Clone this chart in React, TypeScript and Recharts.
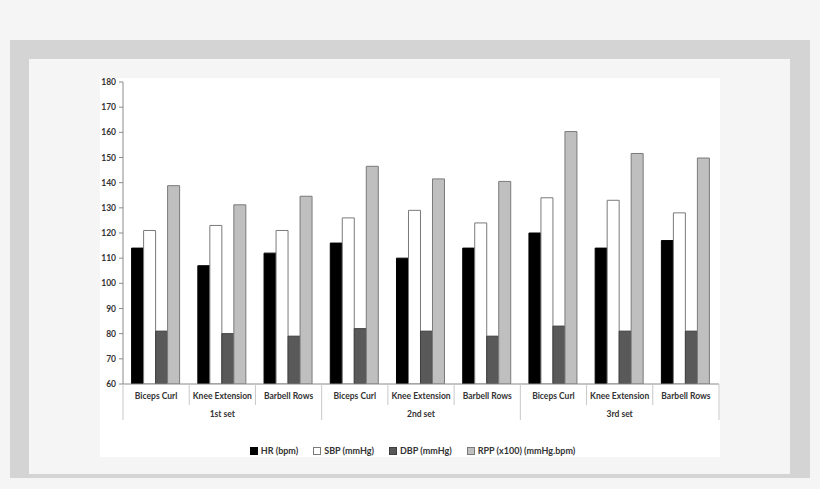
import React from 'react';
import { BarChart, Bar, XAxis, YAxis, Legend } from 'recharts';

// exercise labels per category, grouped in sets of three
const exercises = [
  'Biceps Curl', 'Knee Extension', 'Barbell Rows',
  'Biceps Curl', 'Knee Extension', 'Barbell Rows',
  'Biceps Curl', 'Knee Extension', 'Barbell Rows',
];
const sets = ['1st set', '2nd set', '3rd set'];

const hr = [114, 107, 112, 116, 110, 114, 120, 114, 117];
const sbp = [121, 123, 121, 126, 129, 124, 134, 133, 128];
const dbp = [81, 80, 79, 82, 81, 79, 83, 81, 81];
const rpp = [138.8, 131.2, 134.6, 146.5, 141.5, 140.5, 160.3, 151.6, 149.8];

const yTicks = [60, 70, 80, 90, 100, 110, 120, 130, 140, 150, 160, 170, 180];

const series = [
  { key: 'hr', name: 'HR (bpm)', fill: '#000000', stroke: '#000000' },
  { key: 'sbp', name: 'SBP (mmHg)', fill: '#ffffff', stroke: '#7a7a7a' },
  { key: 'dbp', name: 'DBP (mmHg)', fill: '#595959', stroke: '#3f3f3f' },
  { key: 'rpp', name: 'RPP (x100) (mmHg.bpm)', fill: '#bfbfbf', stroke: '#7a7a7a' },
];

const data = exercises.map((exercise, i) => ({
  id: i,
  exercise,
  set: sets[Math.floor(i / 3)],
  hr: hr[i],
  sbp: sbp[i],
  dbp: dbp[i],
  rpp: rpp[i],
}));

const FONT = 'Lato, "Open Sans", sans-serif';
const CHART_W = 620;
const CHART_H = 379;
const MARGIN = { top: 4, right: 1, left: 0, bottom: 0 };
const Y_W = 23;
const BAND = (CHART_W - MARGIN.left - MARGIN.right - Y_W) / exercises.length;
const AXIS_GRAY = '#8a8a8a';

// two-level category tick: exercise name + set name, with separators
function CategoryTick(props: any) {
  const { x, y, payload, index } = props;
  const i = payload?.index ?? index;
  const left = x - BAND / 2;
  const right = x + BAND / 2;
  const startOfSet = i % 3 === 0;
  return (
    <g>
      <line x1={left} y1={y} x2={left} y2={y + (startOfSet ? 36 : 21)} stroke="#c8c8c8" />
      {i === exercises.length - 1 && (
        <line x1={right} y1={y} x2={right} y2={y + 36} stroke="#c8c8c8" />
      )}
      <text
        x={x}
        y={y + 15}
        textAnchor="middle"
        fontSize={8.5}
        fontWeight={700}
        fontFamily={FONT}
        fill="#333"
      >
        {exercises[i]}
      </text>
      {i % 3 === 1 && (
        <text
          x={x}
          y={y + 33}
          textAnchor="middle"
          fontSize={8.5}
          fontWeight={700}
          fontFamily={FONT}
          fill="#333"
        >
          {sets[Math.floor(i / 3)]}
        </text>
      )}
    </g>
  );
}

function LegendContent(props: any) {
  const payload = props.payload || [];
  // keep the series order instead of the default alphabetical sort
  const ordered = series.filter((s) => payload.some((p: any) => p.dataKey === s.key));
  return (
    <div
      style={{
        display: 'flex',
        justifyContent: 'center',
        gap: 15,
        height: 12,
        lineHeight: '12px',
        fontFamily: FONT,
        fontSize: 9,
        fontWeight: 700,
        color: '#333',
        paddingLeft: 6,
      }}
    >
      {ordered.map((s) => (
        <span key={s.key} style={{ display: 'flex', alignItems: 'center', gap: 3 }}>
          <span
            style={{
              display: 'inline-block',
              width: 6,
              height: 6,
              background: s.fill,
              border: `1px solid ${s.stroke}`,
            }}
          />
          {s.name}
        </span>
      ))}
    </div>
  );
}

export default function App() {
  return (
    <div
      style={{
        position: 'fixed',
        left: 0,
        top: 0,
        width: 820,
        height: 489,
        background: '#f5f5f5',
        overflow: 'hidden',
      }}
    >
      <div style={{ position: 'absolute', left: 10, top: 40, width: 800, height: 438, background: '#d4d4d4' }} />
      <div style={{ position: 'absolute', left: 29, top: 59, width: 761, height: 415, background: '#f5f5f5' }} />
      <div style={{ position: 'absolute', left: 100, top: 78, width: CHART_W, height: CHART_H, background: '#ffffff' }}>
        <BarChart
          width={CHART_W}
          height={CHART_H}
          data={data}
          margin={MARGIN}
          barCategoryGap="13%"
          barGap={0}
        >
          <XAxis
            dataKey="id"
            type="category"
            height={61}
            tickLine={false}
            tickSize={0}
            tickMargin={0}
            axisLine={{ stroke: AXIS_GRAY }}
            tick={<CategoryTick />}
            interval={0}
          />
          <YAxis
            domain={[60, 180]}
            ticks={yTicks}
            interval={0}
            width={Y_W}
            tickSize={4}
            tickMargin={3}
            axisLine={{ stroke: AXIS_GRAY }}
            tickLine={{ stroke: AXIS_GRAY }}
            tick={{ fontSize: 8.5, fontWeight: 700, fontFamily: FONT, fill: '#333' }}
            allowDataOverflow
          />
          <Legend verticalAlign="bottom" content={<LegendContent />} />
          {series.map((s) => (
            <Bar
              key={s.key}
              dataKey={s.key}
              name={s.name}
              fill={s.fill}
              stroke={s.stroke}
              strokeWidth={1}
              isAnimationActive={false}
            />
          ))}
        </BarChart>
      </div>
    </div>
  );
}
